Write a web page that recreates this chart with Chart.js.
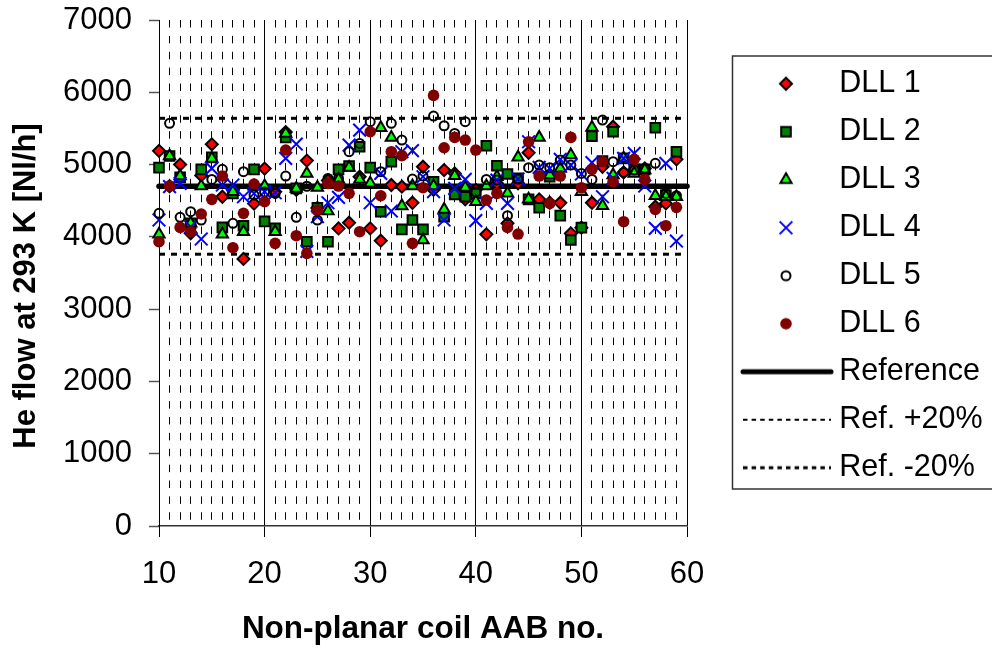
<!DOCTYPE html>
<html>
<head>
<meta charset="utf-8">
<title>He flow per DLL</title>
<style>
    html, body { margin: 0; padding: 0; background: #fff; }
    canvas { display: block; }
</style>
<script src="https://cdn.jsdelivr.net/npm/chart.js@4/dist/chart.umd.js"></script>
</head>
<body>
<canvas id="flowChart" width="992" height="649"></canvas>
<script>
const coilNumbers = [10, 11, 12, 13, 14, 15, 16, 17, 18, 19, 20, 21, 22, 23, 24, 25, 26, 27, 28, 29, 30, 31, 32, 33, 34, 35, 36, 37, 38, 39, 40, 41, 42, 43, 44, 45, 46, 47, 48, 49, 50, 51, 52, 53, 54, 55, 56, 57, 58, 59];
const dll1 = [5190, 4700, 5000, 4050, 4850, 5280, 4555, 4650, 3695, 4460, 4945, 4625, 5450, 4650, 5055, 4400, 4780, 4117, 4196, 4832, 4117, 3947, 4717, 4694, 4472, 4970, 4650, 4924, 4878, 4519, 4650, 4035, 4740, 4187, 4740, 5164, 4519, 4472, 4472, 4048, 4127, 4472, 4970, 5524, 4892, 4924, 4947, 4417, 4463, 5072];
const dll2 = [4957, 5118, 4823, 4187, 4934, 5100, 4131, 4600, 4154, 4934, 4214, 4117, 5376, 4670, 3933, 4403, 3933, 4934, 4980, 5247, 4957, 4348, 5040, 4104, 4233, 4104, 4763, 4279, 4588, 4555, 4600, 5261, 4984, 4869, 4809, 4519, 4403, 4832, 4293, 3956, 4127, 5394, 5050, 5454, 5086, 4934, 4934, 5510, 4578, 5178];
const dll3 = [4035, 5118, 4841, 4187, 4703, 5085, 4035, 4625, 4071, 4700, 4703, 4071, 5430, 4670, 4878, 4684, 4357, 4795, 4961, 4795, 4740, 5510, 5376, 4426, 4703, 3956, 4703, 4380, 4846, 4684, 4486, 4703, 4832, 4602, 5100, 4519, 5376, 4855, 4947, 5132, 4625, 5514, 4431, 4855, 5086, 4878, 4924, 4569, 4555, 4555];
const dll4 = [4233, 4694, 4740, 4140, 3970, 4947, 4717, 4717, 4555, 4600, 4625, 4610, 5085, 5284, 3800, 4279, 4472, 4546, 5270, 5477, 4472, 4878, 4357, 5178, 5192, 4832, 4625, 4233, 4670, 4795, 4224, 4463, 4786, 4463, 4800, 5316, 4961, 4947, 5072, 4993, 4869, 5026, 4555, 4809, 5086, 5155, 4703, 4117, 5017, 3942];
const dll5 = [4325, 5570, 4270, 4348, 4233, 4795, 4934, 4187, 4901, 4578, 4620, 4600, 4841, 4270, 4700, 4233, 4809, 4809, 5178, 5293, 5593, 4901, 5570, 5339, 4800, 4841, 5671, 5537, 5431, 5593, 4620, 4795, 4786, 4293, 4800, 4957, 4993, 4957, 5063, 4993, 4878, 4795, 5616, 5040, 4892, 4924, 4950, 5017, 4600, 4569];
const dll6 = [3933, 4703, 4131, 4071, 4316, 4519, 4841, 3850, 4325, 4731, 4486, 3910, 5201, 4016, 3772, 4371, 4740, 4703, 4602, 4071, 5454, 4569, 5178, 5123, 3910, 4680, 5957, 5233, 5376, 5339, 5201, 4509, 4602, 4131, 4039, 5316, 4841, 4463, 4841, 5376, 4680, 4934, 5040, 4763, 4210, 5072, 4795, 4380, 4154, 4408];

const refX = [10, 60];
const refValues = [4700, 4700];
const refPlus = [5640, 5640];
const refMinus = [3760, 3760];

const xTickLabels = ['10', '20', '30', '40', '50', '60'];

const FONT = '"Liberation Sans", Arial, sans-serif';

function markerDataset(label, values, style, radius, fill, stroke, width, order) {
    return {
        label: label,
        data: values.map((v, i) => ({ x: coilNumbers[i], y: v })),
        showLine: false,
        clip: false,
        order: order,
        pointStyle: style,
        pointRadius: radius,
        pointHoverRadius: radius,
        pointBackgroundColor: fill,
        pointBorderColor: stroke,
        pointBorderWidth: width
    };
}

function lineDataset(label, values, width, dash, cap, order) {
    return {
        label: label,
        data: values.map((v, i) => ({ x: refX[i], y: v })),
        showLine: true,
        clip: false,
        order: order,
        borderColor: '#000',
        borderWidth: width,
        borderDash: dash,
        borderCapStyle: cap,
        pointRadius: 0
    };
}

const datasets = [
    markerDataset('DLL 1', dll1, 'rectRot', 6, '#ff0000', '#000', 2, 6),
    markerDataset('DLL 2', dll2, 'rect', 6.8, '#008000', '#000', 2, 5),
    markerDataset('DLL 3', dll3, 'triangle', 6.5, '#00ff00', '#000', 2, 4),
    markerDataset('DLL 4', dll4, 'crossRot', 9, '#0000ff', '#0000ff', 2, 3),
    markerDataset('DLL 5', dll5, 'circle', 4.5, 'rgba(0,0,0,0)', '#000', 2, 2),
    markerDataset('DLL 6', dll6, 'circle', 5.8, '#800000', '#800000', 0, 1),
    lineDataset('Reference', refValues, 5.5, [], 'round', 7),
    lineDataset('Ref. +20%', refPlus, 3, [6, 6], 'butt', 8),
    lineDataset('Ref. -20%', refMinus, 3, [6, 6], 'butt', 9)
];

// legend keys are little canvases so the line samples can be wider than the markers
function legendKey(ds) {
    const key = document.createElement('canvas');
    key.width = 94;
    key.height = 24;
    const c = key.getContext('2d');
    if (ds.showLine) {
        c.strokeStyle = '#000';
        c.lineCap = ds.borderCapStyle;
        c.lineWidth = ds.label === 'Reference' ? 5 : (ds.label === 'Ref. +20%' ? 2 : 3);
        c.setLineDash(ds.label === 'Reference' ? [] : [4.5, 4.1]);
        c.beginPath();
        c.moveTo(3, 12);
        c.lineTo(91, 12);
        c.stroke();
    } else {
        c.fillStyle = ds.pointBackgroundColor;
        c.strokeStyle = ds.pointBorderColor;
        c.lineWidth = ds.pointBorderWidth;
        Chart.helpers.drawPoint(c, {
            pointStyle: ds.pointStyle,
            radius: ds.pointRadius,
            borderWidth: ds.pointBorderWidth,
            rotation: 0
        }, 46, 12);
    }
    return key;
}

const legendFrame = {
    id: 'legendFrame',
    afterLayout(chart) {
        const legend = chart.legend;
        legend.left = 732.5;
        legend.right = 992;
        legend.top = 51;
        legend.bottom = 649;
    },
    beforeDraw(chart) {
        const c = chart.ctx;
        c.save();
        c.strokeStyle = '#333';
        c.lineWidth = 1.5;
        c.strokeRect(732.5, 56, 300, 433);
        c.restore();
    }
};

new Chart(document.getElementById('flowChart'), {
    type: 'scatter',
    data: { datasets: datasets },
    plugins: [legendFrame],
    options: {
        responsive: false,
        animation: false,
        layout: { padding: { top: 20, right: 305, bottom: 0, left: 0 } },
        plugins: {
            tooltip: { enabled: false },
            legend: {
                position: 'chartArea',
                align: 'start',
                labels: {
                    usePointStyle: true,
                    pointStyleWidth: 74,
                    padding: 17.5,
                    color: '#000',
                    font: { family: FONT, size: 30.5 },
                    generateLabels: () => datasets.map((ds, i) => ({
                        text: ds.label,
                        pointStyle: legendKey(ds),
                        fontColor: '#000',
                        lineWidth: 0,
                        hidden: false,
                        datasetIndex: i
                    }))
                }
            }
        },
        scales: {
            x: {
                type: 'linear',
                min: 10,
                max: 60,
                afterFit: scale => { scale.height = 123; },
                title: {
                    display: true,
                    text: 'Non-planar coil AAB no.',
                    color: '#000',
                    font: { family: FONT, size: 31.5, weight: 'bold' },
                    padding: { top: 0, bottom: 1 }
                },
                ticks: {
                    stepSize: 1,
                    autoSkip: false,
                    maxRotation: 0,
                    minRotation: 0,
                    padding: 19,
                    color: '#000',
                    font: { family: FONT, size: 31 },
                    callback: v => xTickLabels.includes(String(v)) ? String(v) : ''
                },
                grid: {
                    color: '#000',
                    lineWidth: 1,
                    tickLength: 11,
                    tickWidth: 1,
                    tickColor: ctx => ctx.tick && ctx.tick.value % 10 === 0 ? '#000' : 'rgba(0,0,0,0)'
                },
                border: {
                    color: '#333',
                    width: 1.5,
                    dash: ctx => ctx.tick && ctx.tick.value % 10 !== 0 ? [7.5, 8.38] : []
                }
            },
            y: {
                type: 'linear',
                min: 0,
                max: 7000,
                afterFit: scale => {
                    scale.width = 159;
                    scale.paddingTop = 0;
                    scale.paddingBottom = 0;
                },
                title: {
                    display: true,
                    text: 'He flow at 293 K [Nl/h]   ',
                    color: '#000',
                    font: { family: FONT, size: 31, weight: 'bold' },
                    padding: { top: 8, bottom: 0 }
                },
                ticks: {
                    stepSize: 1000,
                    padding: 17,
                    color: '#000',
                    font: { family: FONT, size: 31 },
                    callback: v => String(v)
                },
                grid: {
                    drawOnChartArea: false,
                    tickLength: 10,
                    tickWidth: 1.5,
                    tickColor: '#555'
                },
                border: { color: '#000', width: 1 }
            }
        }
    }
});
</script>
</body>
</html>
